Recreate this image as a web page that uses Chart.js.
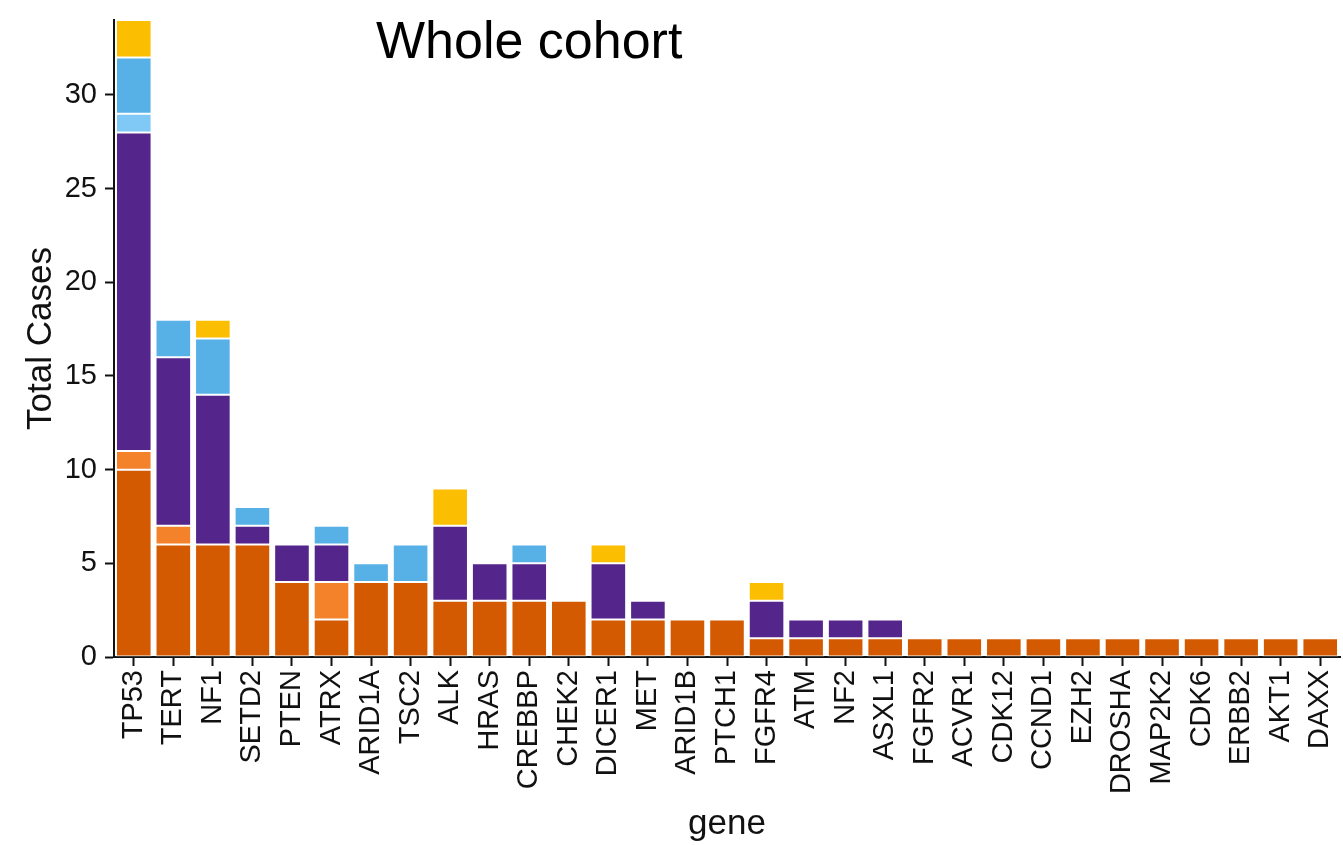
<!DOCTYPE html>
<html>
<head>
<meta charset="utf-8">
<title>Whole cohort</title>
<script src="https://cdn.jsdelivr.net/npm/chart.js@4.4.1/dist/chart.umd.min.js"></script>
<style>
  html, body { margin: 0; padding: 0; background: #ffffff; }
  #wrap { width: 1343px; height: 845px; position: relative; }
</style>
</head>
<body>
<div id="wrap"><canvas id="chart" width="1343" height="845"></canvas></div>
<script>
// Genes, ordered by total number of cases
const genes = ["TP53","TERT","NF1","SETD2","PTEN","ATRX","ARID1A","TSC2","ALK","HRAS",
  "CREBBP","CHEK2","DICER1","MET","ARID1B","PTCH1","FGFR4","ATM","NF2","ASXL1",
  "FGFR2","ACVR1","CDK12","CCND1","EZH2","DROSHA","MAP2K2","CDK6","ERBB2","AKT1","DAXX"];

// Case counts per alteration group (stacked bottom to top)
const darkOrange = [10,6,6,6,4,2,4,4,3,3,3,3,2,2,2,2,1,1,1,1,1,1,1,1,1,1,1,1,1,1,1];
const lightOrange = [1,1,0,0,0,2,0,0,0,0,0,0,0,0,0,0,0,0,0,0,0,0,0,0,0,0,0,0,0,0,0];
const purple     = [17,9,8,1,2,2,0,0,4,2,2,0,3,1,0,0,2,1,1,1,0,0,0,0,0,0,0,0,0,0,0];
const lightBlue  = [1,0,0,0,0,0,0,0,0,0,0,0,0,0,0,0,0,0,0,0,0,0,0,0,0,0,0,0,0,0,0];
const blue       = [3,2,3,1,0,1,1,2,0,0,1,0,0,0,0,0,0,0,0,0,0,0,0,0,0,0,0,0,0,0,0];
const yellow     = [2,0,1,0,0,0,0,0,2,0,0,0,1,0,0,0,1,0,0,0,0,0,0,0,0,0,0,0,0,0,0];

// Y axis tick values
const yTicks = [0, 5, 10, 15, 20, 25, 30];
const yMax = 34;

const FONT = "'Liberation Sans', Arial, Helvetica, sans-serif";
const INK = "#111111";

function series(label, values, color) {
  return {
    label: label,
    data: values,
    backgroundColor: color,
    borderColor: "rgba(255,255,255,0.75)",
    borderWidth: (c) => (c.raw ? 1 : 0),
    borderSkipped: false,
    categoryPercentage: 1.0,
    barPercentage: 0.9
  };
}

// Plot title placed inside the top of the plotting area
const titlePlugin = {
  id: "plotTitle",
  afterDraw(chart) {
    const ctx = chart.ctx;
    ctx.save();
    ctx.fillStyle = "#000000";
    ctx.font = "52px " + FONT;
    ctx.textAlign = "left";
    ctx.textBaseline = "alphabetic";
    ctx.fillText("Whole cohort", 376, 58);
    ctx.restore();
  }
};

new Chart(document.getElementById("chart"), {
  type: "bar",
  data: {
    labels: genes,
    datasets: [
      series("darkOrange", darkOrange, "#D35A00"),
      series("lightOrange", lightOrange, "#F4822B"),
      series("purple", purple, "#54258A"),
      series("lightBlue", lightBlue, "#80C8F5"),
      series("blue", blue, "#57B0E6"),
      series("yellow", yellow, "#FBBE00")
    ]
  },
  options: {
    responsive: false,
    animation: false,
    events: [],
    layout: { padding: { top: 20, right: 3, left: 0, bottom: 0 } },
    plugins: {
      legend: { display: false },
      tooltip: { enabled: false },
      title: { display: false }
    },
    scales: {
      x: {
        stacked: true,
        offset: true,
        afterFit(scale) {
          scale.height = 845 - 657;
          scale.paddingLeft = 0;
          scale.paddingRight = 0;
        },
        grid: {
          display: true,
          drawOnChartArea: false,
          offset: false,
          drawTicks: true,
          tickLength: 9,
          tickWidth: 2,
          tickColor: INK
        },
        border: { display: true, color: INK, width: 2 },
        ticks: {
          autoSkip: false,
          minRotation: 90,
          maxRotation: 90,
          padding: 4,
          color: INK,
          font: { family: FONT, size: 29 }
        },
        title: {
          display: true,
          text: "gene",
          color: INK,
          font: { family: FONT, size: 35, lineHeight: 1.2 },
          padding: { top: 0, bottom: 0 }
        }
      },
      y: {
        stacked: true,
        min: 0,
        max: yMax,
        afterFit(scale) {
          scale.width = 114;
          scale.paddingTop = 0;
          scale.paddingBottom = 0;
        },
        afterBuildTicks(scale) {
          scale.ticks = yTicks.map(v => ({ value: v }));
        },
        grid: {
          display: true,
          drawOnChartArea: false,
          drawTicks: true,
          tickLength: 9,
          tickWidth: 2,
          tickColor: INK
        },
        border: { display: true, color: INK, width: 2 },
        ticks: {
          padding: 8,
          color: INK,
          font: { family: FONT, size: 29 }
        },
        title: {
          display: true,
          text: "Total Cases",
          color: INK,
          font: { family: FONT, size: 35, lineHeight: 1.2 },
          padding: { top: 20, bottom: 0 }
        }
      }
    }
  },
  plugins: [titlePlugin]
});
</script>
</body>
</html>
